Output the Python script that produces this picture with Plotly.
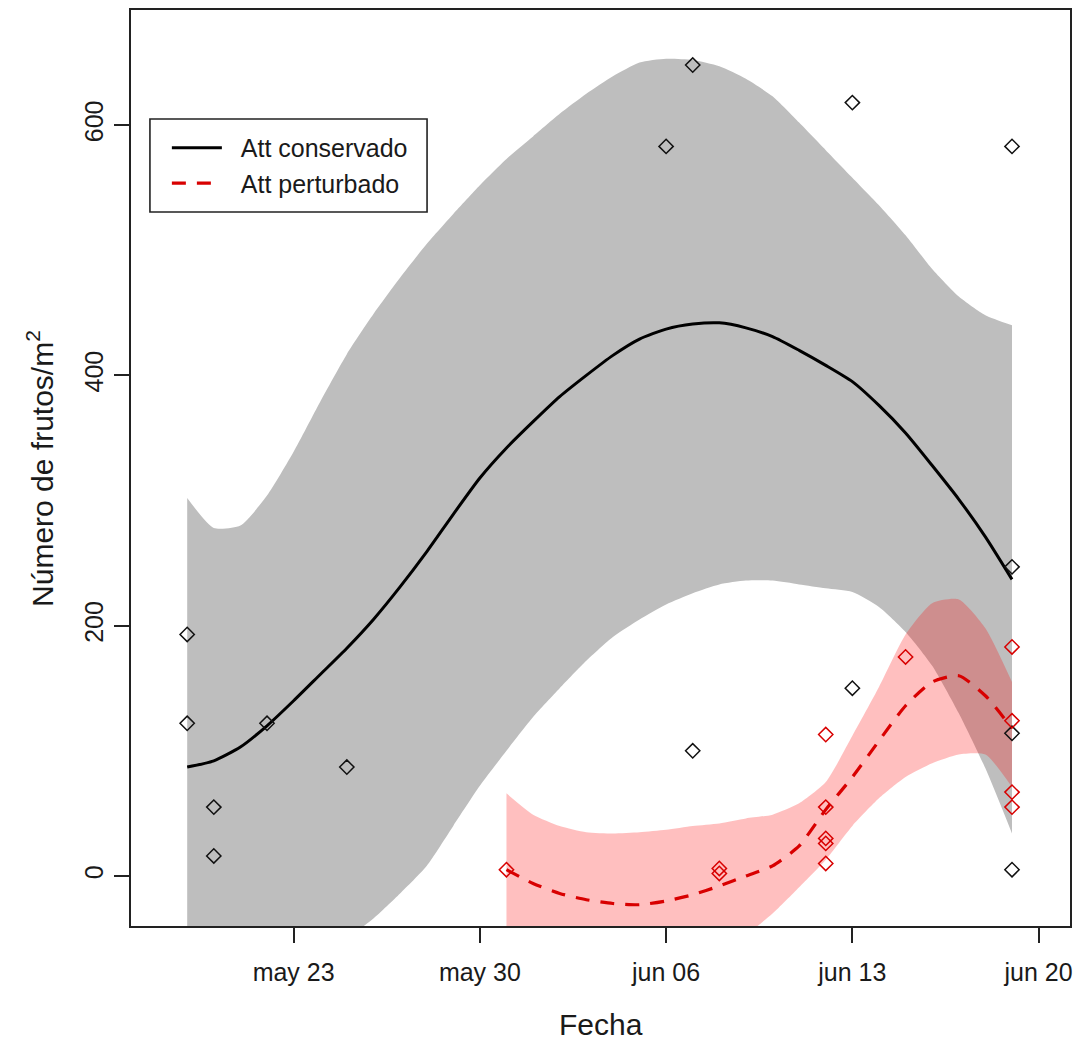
import pandas as pd
import plotly.graph_objects as go

# ---------------- data ----------------
cons_dates = pd.date_range("2023-05-19", "2023-06-19", freq="D")
cons_fit = [87, 92, 103, 120, 140, 161, 182, 205, 231, 259, 289, 318, 342, 363, 383, 400,
            416, 429, 437, 441, 442, 438, 431, 420, 408, 395, 376, 354, 328, 301, 271, 237]
cons_upper = [302, 278, 280, 304, 339, 379, 417, 449, 478, 505, 529, 552, 573, 591, 609, 625,
              639, 650, 653, 652, 647, 637, 623, 602, 580, 558, 536, 512, 485, 463, 448, 440]
cons_lower = [-150, -130, -110, -92, -76, -64, -50, -34, -14, 8, 40, 72, 100, 127, 150, 172,
              191, 205, 217, 226, 233, 236, 236, 233, 230, 227, 215, 195, 168, 130, 86, 34]

pert_dates = pd.date_range("2023-05-31", "2023-06-19", freq="D")
pert_fit = [5, -6, -14, -19, -22, -23, -20, -15, -8, 0, 8, 24, 53, 79, 108, 136, 155, 160, 144, 118]
pert_upper = [66, 49, 40, 35, 34, 35, 37, 40, 42, 46, 49, 58, 75, 112, 151, 193, 218, 221, 198, 155]
pert_lower = [-56, -61, -68, -73, -78, -81, -77, -70, -58, -47, -30, -9, 13, 40, 62, 79, 90, 97, 97, 71]

cons_pt_dates = ["2023-05-19", "2023-05-19", "2023-05-20", "2023-05-20", "2023-05-22", "2023-05-25",
                 "2023-06-06", "2023-06-07", "2023-06-07", "2023-06-13", "2023-06-13",
                 "2023-06-19", "2023-06-19", "2023-06-19", "2023-06-19"]
cons_pt_vals = [193, 122, 55, 16, 122, 87, 583, 648, 100, 618, 150, 583, 247, 114, 5]

pert_pt_dates = ["2023-05-31", "2023-06-08", "2023-06-08", "2023-06-12", "2023-06-12", "2023-06-12",
                 "2023-06-12", "2023-06-12", "2023-06-15", "2023-06-19", "2023-06-19", "2023-06-19",
                 "2023-06-19"]
pert_pt_vals = [5, 6, 2, 113, 55, 30, 26, 10, 175, 183, 124, 67, 55]

x_tick_vals = ["2023-05-23", "2023-05-30", "2023-06-06", "2023-06-13", "2023-06-20"]
x_tick_text = ["may 23", "may 30", "jun 06", "jun 13", "jun 20"]
y_tick_vals = [0, 200, 400, 600]

series_names = ["Att conservado", "Att perturbado"]

# ---------------- style ----------------
FONT = "Liberation Sans, Arial, sans-serif"
TXT = "#1a1a1a"
GRAY_FILL = "#BEBEBE"
RED_FILL = "rgba(255,0,0,0.25)"
RED = "#D80000"
PAD = "\u00a0\u00a0"  # small visual gap between legend sample and its label

fig = go.Figure()

# confidence bands
spl = dict(width=0, shape="spline", smoothing=0.6)
fig.add_trace(go.Scatter(x=cons_dates, y=cons_lower, mode="lines", line=spl,
                         showlegend=False, hoverinfo="skip"))
fig.add_trace(go.Scatter(x=cons_dates, y=cons_upper, mode="lines", line=spl,
                         fill="tonexty", fillcolor=GRAY_FILL, showlegend=False, hoverinfo="skip"))
fig.add_trace(go.Scatter(x=pert_dates, y=pert_lower, mode="lines", line=spl,
                         showlegend=False, hoverinfo="skip"))
fig.add_trace(go.Scatter(x=pert_dates, y=pert_upper, mode="lines", line=spl,
                         fill="tonexty", fillcolor=RED_FILL, showlegend=False, hoverinfo="skip"))

# fitted curves
fig.add_trace(go.Scatter(x=cons_dates, y=cons_fit, mode="lines", name=PAD + series_names[0],
                         line=dict(color="black", width=3, shape="spline", smoothing=0.6)))
fig.add_trace(go.Scatter(x=pert_dates, y=pert_fit, mode="lines", name=PAD + series_names[1],
                         line=dict(color=RED, width=3.2, dash="14px,11px", shape="spline", smoothing=0.6)))

# observations
fig.add_trace(go.Scatter(x=cons_pt_dates, y=cons_pt_vals, mode="markers", showlegend=False,
                         marker=dict(symbol="diamond-open", size=11, color="#111111", line=dict(width=1.5))))
fig.add_trace(go.Scatter(x=pert_pt_dates, y=pert_pt_vals, mode="markers", showlegend=False,
                         marker=dict(symbol="diamond-open", size=11, color=RED, line=dict(width=1.5))))

axis_common = dict(showline=True, mirror=True, linecolor="#222222", linewidth=1.6,
                   ticks="outside", ticklen=15, tickwidth=1.5, tickcolor="#222222",
                   showgrid=False, zeroline=False,
                   tickfont=dict(family=FONT, size=25, color=TXT))

fig.update_layout(
    width=1078, height=1042,
    margin=dict(l=131, r=5, t=10, b=116),
    paper_bgcolor="white", plot_bgcolor="white",
    font=dict(family=FONT, color=TXT),
    xaxis=dict(type="date", range=["2023-05-16 21:19", "2023-06-21 04:19"],
               tickmode="array", tickvals=x_tick_vals, ticktext=x_tick_text,
               ticklabelstandoff=8, **axis_common),
    yaxis=dict(range=[-40, 692], tickmode="array", tickvals=y_tick_vals, tickangle=-90,
               ticklabelstandoff=1, **axis_common),
    showlegend=True,
    legend=dict(x=0.0382, y=0.8745, xanchor="left", yanchor="top", bgcolor="rgba(0,0,0,0)",
                borderwidth=0, font=dict(family=FONT, size=25, color=TXT), itemwidth=50,
                traceorder="normal", tracegroupgap=0),
    annotations=[
        dict(text="Fecha", xref="paper", yref="paper", x=0.5, y=-0.108, xanchor="center", yanchor="middle",
             showarrow=False, font=dict(family=FONT, size=30, color=TXT)),
        dict(text="Número de frutos/m<sup>2</sup>", xref="paper", yref="paper", x=-0.097, y=0.5,
             xanchor="center", yanchor="middle", textangle=-90, showarrow=False,
             font=dict(family=FONT, size=30, color=TXT)),
    ],
    shapes=[dict(type="rect", xref="paper", yref="paper", x0=(150 - 131) / 942, x1=(428 - 131) / 942,
                 y0=(926 - 212) / 916, y1=(926 - 119) / 916, line=dict(color="#222222", width=1.6),
                 fillcolor="rgba(0,0,0,0)", layer="above")],
)

fig.write_html("out.html", config={"displayModeBar": False},
               post_script="document.body.style.margin='0px';")
